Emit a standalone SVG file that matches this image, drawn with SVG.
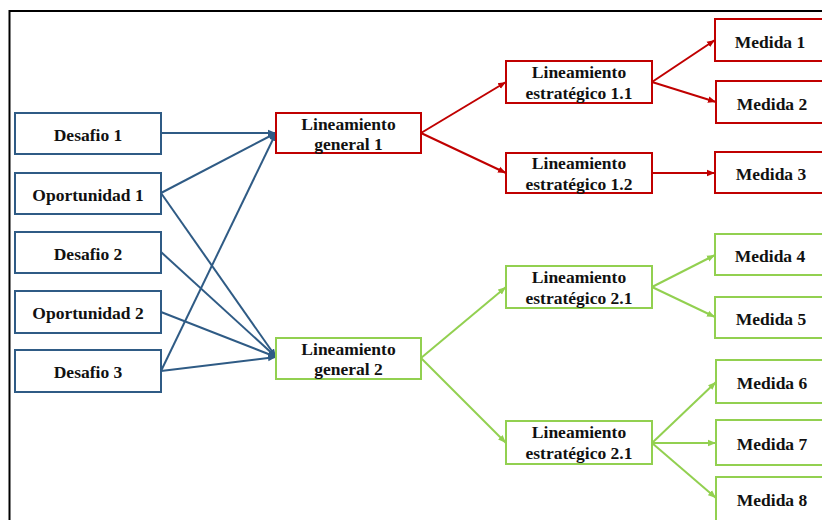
<svg xmlns="http://www.w3.org/2000/svg" width="822" height="520" viewBox="0 0 822 520">
  <defs>
    <style>
      .box { fill: #ffffff; stroke-width: 2; }
      .b { stroke: #2F5B85; }
      .r { stroke: #C00000; }
      .g { stroke: #92D050; }
      text { font-family: "Liberation Serif", "Times New Roman", serif; font-weight: bold; font-size: 17.5px; fill: #111111; text-anchor: middle; }
      .cb { stroke: #2F5B85; stroke-width: 2; fill: none; marker-end: url(#ab); }
      .cr { stroke: #C00000; stroke-width: 2; fill: none; marker-end: url(#ar); }
      .cg { stroke: #92D050; stroke-width: 2; fill: none; marker-end: url(#ag); }
    </style>
    <marker id="ab" markerUnits="userSpaceOnUse" markerWidth="10" markerHeight="8" refX="8" refY="4" orient="auto">
      <path d="M0,0.8 L8,4 L0,7.2 Z" fill="#2F5B85"/>
    </marker>
    <marker id="ar" markerUnits="userSpaceOnUse" markerWidth="10" markerHeight="8" refX="8" refY="4" orient="auto">
      <path d="M0,0.8 L8,4 L0,7.2 Z" fill="#C00000"/>
    </marker>
    <marker id="ag" markerUnits="userSpaceOnUse" markerWidth="10" markerHeight="8" refX="8" refY="4" orient="auto">
      <path d="M0,0.8 L8,4 L0,7.2 Z" fill="#92D050"/>
    </marker>
  </defs>

  <rect width="822" height="520" fill="#ffffff"/>
  <!-- outer frame, open to the right and bottom -->
  <rect x="9.5" y="11" width="900" height="600" fill="none" stroke="#000000" stroke-width="2"/>

  <!-- connectors -->
  <g id="connectors">
    <line class="cb" x1="161" y1="133" x2="276" y2="133"/>
    <line class="cb" x1="161" y1="193" x2="276" y2="133"/>
    <line class="cb" x1="161" y1="371" x2="276" y2="133"/>
    <line class="cb" x1="161" y1="193" x2="276" y2="357"/>
    <line class="cb" x1="161" y1="252" x2="276" y2="357"/>
    <line class="cb" x1="161" y1="312" x2="276" y2="357"/>
    <line class="cb" x1="161" y1="371" x2="276" y2="357"/>

    <line class="cr" x1="421" y1="133" x2="506" y2="82"/>
    <line class="cr" x1="421" y1="133" x2="506" y2="173"/>
    <line class="cr" x1="652" y1="82" x2="715" y2="40"/>
    <line class="cr" x1="652" y1="82" x2="716" y2="102"/>
    <line class="cr" x1="652" y1="173" x2="715" y2="173"/>

    <line class="cg" x1="421" y1="358" x2="506" y2="287"/>
    <line class="cg" x1="421" y1="358" x2="506" y2="443"/>
    <line class="cg" x1="652" y1="287" x2="715" y2="255"/>
    <line class="cg" x1="652" y1="287" x2="715" y2="317"/>
    <line class="cg" x1="652" y1="443" x2="716" y2="382"/>
    <line class="cg" x1="652" y1="443" x2="716" y2="443"/>
    <line class="cg" x1="652" y1="443" x2="716" y2="498"/>
  </g>

  <!-- inputs -->
  <g id="desafio1"><rect class="box b" x="15" y="113" width="146" height="41"/><text x="88" y="141">Desafio 1</text></g>
  <g id="oportunidad1"><rect class="box b" x="15" y="173" width="146" height="41"/><text x="88" y="201">Oportunidad 1</text></g>
  <g id="desafio2"><rect class="box b" x="15" y="232" width="146" height="41"/><text x="88" y="260">Desafio 2</text></g>
  <g id="oportunidad2"><rect class="box b" x="15" y="291" width="146" height="42"/><text x="88" y="319">Oportunidad 2</text></g>
  <g id="desafio3"><rect class="box b" x="15" y="350" width="146" height="42"/><text x="88" y="378">Desafio 3</text></g>

  <!-- general guidelines -->
  <g id="lg1"><rect class="box r" x="276" y="113" width="145" height="40"/><text x="348.5" y="130">Lineamiento</text><text x="348.5" y="150">general 1</text></g>
  <g id="lg2"><rect class="box g" x="276" y="338" width="145" height="41"/><text x="348.5" y="355">Lineamiento</text><text x="348.5" y="375">general 2</text></g>

  <!-- strategic guidelines -->
  <g id="le11"><rect class="box r" x="506" y="61" width="146" height="42"/><text x="579" y="78">Lineamiento</text><text x="579" y="99">estratégico 1.1</text></g>
  <g id="le12"><rect class="box r" x="506" y="153" width="146" height="40"/><text x="579" y="169">Lineamiento</text><text x="579" y="190">estratégico 1.2</text></g>
  <g id="le21a"><rect class="box g" x="506" y="266" width="146" height="42"/><text x="579" y="283">Lineamiento</text><text x="579" y="304">estratégico 2.1</text></g>
  <g id="le21b"><rect class="box g" x="506" y="421" width="146" height="43"/><text x="579" y="438">Lineamiento</text><text x="579" y="459">estratégico 2.1</text></g>

  <!-- measures -->
  <g id="medida1"><rect class="box r" x="715" y="19" width="112" height="42"/><text x="770" y="48">Medida 1</text></g>
  <g id="medida2"><rect class="box r" x="716" y="81" width="112" height="42"/><text x="772" y="110">Medida 2</text></g>
  <g id="medida3"><rect class="box r" x="715" y="152" width="112" height="41"/><text x="771" y="180">Medida 3</text></g>
  <g id="medida4"><rect class="box g" x="715" y="234" width="112" height="41"/><text x="770" y="262">Medida 4</text></g>
  <g id="medida5"><rect class="box g" x="715" y="297" width="112" height="41"/><text x="771" y="325">Medida 5</text></g>
  <g id="medida6"><rect class="box g" x="716" y="360" width="112" height="43"/><text x="772" y="389">Medida 6</text></g>
  <g id="medida7"><rect class="box g" x="716" y="420" width="112" height="45"/><text x="772" y="450">Medida 7</text></g>
  <g id="medida8"><rect class="box g" x="716" y="477" width="112" height="44"/><text x="772" y="506">Medida 8</text></g>
</svg>
